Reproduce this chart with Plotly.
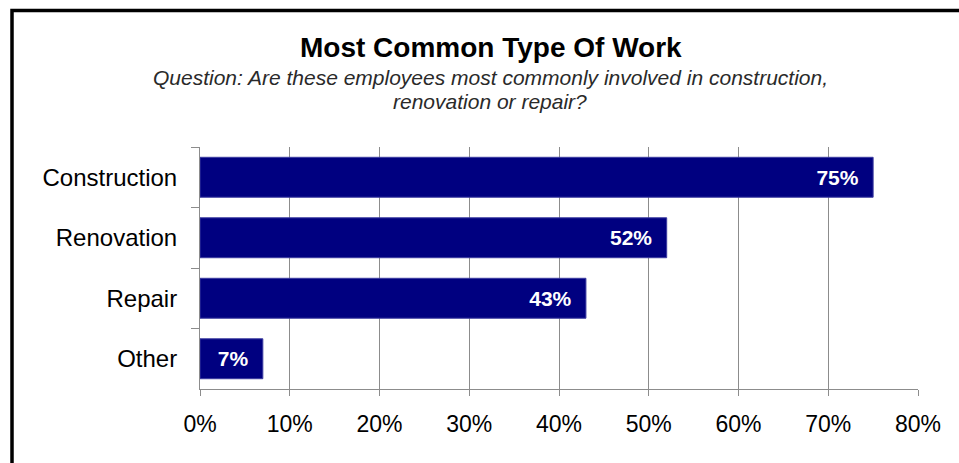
import plotly.graph_objects as go

# Survey results: share of employees by most common type of work
categories = ["Construction", "Renovation", "Repair", "Other"]
shares = [75, 52, 43, 7]
x_ticks = [0, 10, 20, 30, 40, 50, 60, 70, 80]
x_tick_labels = [f"{t}%" for t in x_ticks]

title_text = "Most Common Type Of Work"
question_lines = [
    "Question: Are these employees most commonly involved in construction,",
    "renovation or repair?",
]

W, H = 959, 463
M_L, M_R, M_T, M_B = 200, 41, 147, 74
FONT = "Liberation Sans, Arial, sans-serif"
NAVY = "#000080"
GRID = "#8c8c8c"


def px_x(p):
    """pixel column -> paper x"""
    return (p - M_L) / (W - M_L - M_R)


def px_y(p):
    """pixel row -> paper y"""
    return (H - M_B - p) / (H - M_T - M_B)


fig = go.Figure(
    go.Bar(
        y=categories,
        x=shares,
        orientation="h",
        marker=dict(color=NAVY, line=dict(color="#3c3ca0", width=1)),
        texttemplate="<b>%{x}%</b>\u00a0\u00a0",
        textposition="inside",
        insidetextanchor="end",
        textangle=0,
        textfont=dict(family=FONT, size=21, color="white"),
        cliponaxis=False,
        hoverinfo="skip",
    )
)

fig.update_layout(
    width=W,
    height=H,
    margin=dict(l=M_L, r=M_R, t=M_T, b=M_B, pad=0),
    paper_bgcolor="white",
    plot_bgcolor="white",
    bargap=0.34,
    showlegend=False,
    font=dict(family=FONT, color="black"),
)

fig.update_xaxes(
    range=[0, 80],
    tickvals=x_ticks,
    ticktext=x_tick_labels,
    showgrid=True,
    gridcolor=GRID,
    gridwidth=1,
    zeroline=False,
    showline=True,
    linecolor=GRID,
    linewidth=1,
    ticks="outside",
    ticklen=6,
    tickcolor=GRID,
    tickfont=dict(family=FONT, size=23, color="black"),
    ticklabelstandoff=8,
    fixedrange=True,
)

fig.update_yaxes(
    categoryorder="array",
    categoryarray=categories,
    autorange="reversed",
    showgrid=False,
    zeroline=False,
    showline=True,
    linecolor=GRID,
    linewidth=1,
    ticks="outside",
    tickson="boundaries",
    ticklen=8,
    tickcolor=GRID,
    tickfont=dict(family=FONT, size=24, color="black"),
    ticklabelstandoff=17,
    fixedrange=True,
)

# Heading and question text
fig.add_annotation(
    text=f"<b>{title_text}</b>",
    x=px_x(491), y=px_y(48), xref="paper", yref="paper",
    xanchor="center", yanchor="middle", showarrow=False,
    font=dict(family=FONT, size=28, color="black"),
)
for i, line in enumerate(question_lines):
    fig.add_annotation(
        text=f"<i>{line}</i>",
        x=px_x(490), y=px_y(78 + 23 * i), xref="paper", yref="paper",
        xanchor="center", yanchor="middle", showarrow=False,
        font=dict(family=FONT, size=21, color="#2a2a2a"),
    )

# Black frame around the chart
fig.add_shape(
    type="rect", xref="paper", yref="paper",
    x0=px_x(12), x1=px_x(W + 20), y0=px_y(H + 20), y1=px_y(10.5),
    line=dict(color="black", width=3.5), fillcolor="rgba(0,0,0,0)",
    layer="above",
)

fig.write_html("out.html")
